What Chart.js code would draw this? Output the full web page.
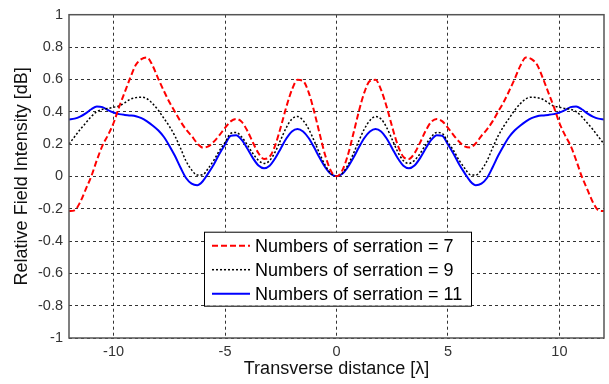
<!DOCTYPE html>
<html><head><meta charset="utf-8">
<script src="https://cdn.jsdelivr.net/npm/chart.js@4.4.1/dist/chart.umd.min.js"></script>
<style>html,body{margin:0;padding:0;background:#fff;}#wrap{width:609px;height:384px;}</style>
</head><body><div id="wrap"><canvas id="c" width="609" height="384"></canvas></div>
<script>
const xValues = [-12,-11.75,-11.5,-11.25,-11,-10.75,-10.5,-10.25,-10,-9.75,-9.5,-9.25,-9,-8.75,-8.5,-8.25,-8,-7.75,-7.5,-7.25,-7,-6.75,-6.5,-6.25,-6,-5.75,-5.5,-5.25,-5,-4.75,-4.5,-4.25,-4,-3.75,-3.5,-3.25,-3,-2.75,-2.5,-2.25,-2,-1.75,-1.5,-1.25,-1,-0.75,-0.5,-0.25,0,0.25,0.5,0.75,1,1.25,1.5,1.75,2,2.25,2.5,2.75,3,3.25,3.5,3.75,4,4.25,4.5,4.75,5,5.25,5.5,5.75,6,6.25,6.5,6.75,7,7.25,7.5,7.75,8,8.25,8.5,8.75,9,9.25,9.5,9.75,10,10.25,10.5,10.75,11,11.25,11.5,11.75,12];
const serration7 = [-0.215,-0.21,-0.16,-0.08,0.0,0.10,0.19,0.255,0.33,0.43,0.52,0.61,0.69,0.725,0.735,0.685,0.605,0.53,0.46,0.40,0.34,0.29,0.25,0.205,0.178,0.185,0.215,0.255,0.30,0.34,0.355,0.337,0.282,0.209,0.143,0.108,0.121,0.192,0.305,0.43,0.535,0.597,0.59,0.52,0.40,0.26,0.127,0.034,0,0.034,0.127,0.26,0.40,0.52,0.59,0.597,0.535,0.43,0.305,0.192,0.121,0.108,0.143,0.209,0.282,0.337,0.355,0.34,0.30,0.255,0.215,0.185,0.178,0.205,0.25,0.29,0.34,0.40,0.46,0.53,0.605,0.685,0.735,0.725,0.69,0.61,0.52,0.43,0.33,0.255,0.19,0.10,0.0,-0.08,-0.16,-0.21,-0.215];
const serration9 = [0.2,0.245,0.29,0.33,0.37,0.40,0.415,0.42,0.428,0.435,0.455,0.477,0.487,0.49,0.48,0.45,0.41,0.36,0.31,0.25,0.175,0.095,0.04,0.008,0.01,0.05,0.10,0.16,0.21,0.265,0.272,0.243,0.195,0.141,0.099,0.08,0.097,0.151,0.227,0.302,0.355,0.37,0.346,0.293,0.219,0.138,0.067,0.018,0,0.018,0.067,0.138,0.219,0.293,0.346,0.37,0.355,0.302,0.227,0.151,0.097,0.08,0.099,0.141,0.195,0.243,0.272,0.265,0.21,0.16,0.10,0.05,0.01,0.008,0.04,0.095,0.175,0.25,0.31,0.36,0.41,0.45,0.48,0.49,0.487,0.477,0.455,0.435,0.428,0.42,0.415,0.40,0.37,0.33,0.29,0.245,0.2];
const serration11 = [0.352,0.357,0.37,0.39,0.415,0.432,0.428,0.41,0.395,0.385,0.38,0.377,0.372,0.36,0.34,0.315,0.285,0.245,0.19,0.127,0.055,-0.01,-0.045,-0.055,-0.03,0.02,0.075,0.14,0.197,0.25,0.255,0.225,0.172,0.113,0.067,0.05,0.066,0.112,0.173,0.234,0.278,0.293,0.277,0.237,0.178,0.113,0.055,0.014,0,0.014,0.055,0.113,0.178,0.237,0.277,0.293,0.278,0.234,0.173,0.112,0.066,0.05,0.067,0.113,0.172,0.225,0.255,0.25,0.197,0.14,0.075,0.02,-0.03,-0.055,-0.045,-0.01,0.055,0.127,0.19,0.245,0.285,0.315,0.34,0.36,0.372,0.377,0.38,0.385,0.395,0.41,0.428,0.432,0.415,0.39,0.37,0.357,0.352];
const seriesLabels = ['Numbers of serration = 7','Numbers of serration = 9','Numbers of serration = 11'];
const xTickValues = [-10,-5,0,5,10];
const xTickLabels = ['-10','-5','0','5','10'];
const yTickValues = [-1,-0.8,-0.6,-0.4,-0.2,0,0.2,0.4,0.6,0.8,1];
const yTickLabels = ['-1','-0.8','-0.6','-0.4','-0.2','0','0.2','0.4','0.6','0.8','1'];
const xTitle = 'Transverse distance [\u03bb]';
const yTitle = 'Relative Field Intensity [dB]';

const FONT = '"Liberation Sans", Arial, sans-serif';
const toPts = arr => arr.map((v, i) => ({x: xValues[i], y: v}));

const framePlugin = {
  id: 'frameLegend',
  afterDatasetsDraw(chart) {
    const {ctx, chartArea: a} = chart;
    ctx.save();
    ctx.setLineDash([]);
    ctx.strokeStyle = '#555';
    ctx.lineWidth = 1.5;
    ctx.strokeRect(a.left, a.top, a.right - a.left, a.bottom - a.top);
    const lx = a.left + 135, ly = a.top + 217, lw = 267, lh = 74;
    ctx.fillStyle = '#fff';
    ctx.fillRect(lx, ly, lw, lh);
    ctx.strokeStyle = '#000';
    ctx.lineWidth = 1;
    ctx.strokeRect(lx + 0.5, ly + 0.5, lw, lh);
    chart.data.datasets.forEach((ds, i) => {
      const y = ly + 14 + i * 24;
      ctx.strokeStyle = ds.borderColor;
      ctx.lineWidth = ds.borderWidth;
      ctx.setLineDash(ds.borderDash || []);
      ctx.beginPath(); ctx.moveTo(lx + 8, y); ctx.lineTo(lx + 46, y); ctx.stroke();
      ctx.setLineDash([]);
      ctx.fillStyle = '#000';
      ctx.font = '18px ' + FONT;
      ctx.textBaseline = 'middle';
      ctx.fillText(ds.label, lx + 51, y + 1);
    });
    ctx.restore();
  }
};

new Chart(document.getElementById('c'), {
  type: 'line',
  data: {
    datasets: [
      {label: seriesLabels[0], data: toPts(serration7), borderColor: '#ff0000', borderWidth: 2, borderDash: [6, 3]},
      {label: seriesLabels[1], data: toPts(serration9), borderColor: '#000000', borderWidth: 1.5, borderDash: [2, 2]},
      {label: seriesLabels[2], data: toPts(serration11), borderColor: '#0000ff', borderWidth: 2}
    ]
  },
  options: {
    responsive: false,
    animation: false,
    devicePixelRatio: 1,
    layout: {padding: {top: 11, right: 5, left: 0, bottom: 0}},
    elements: {point: {radius: 0}, line: {cubicInterpolationMode: 'monotone', fill: false}},
    plugins: {legend: {display: false}, tooltip: {enabled: false}},
    scales: {
      x: {
        type: 'linear', min: -12, max: 12,
        afterBuildTicks: s => { s.ticks = xTickValues.map(v => ({value: v})); },
        afterFit: s => { s.height = 46; },
        ticks: {
          padding: 5, color: '#333', font: {family: FONT, size: 14.5},
          callback: v => xTickLabels[xTickValues.indexOf(v)]
        },
        grid: {color: '#333', lineWidth: 1, drawTicks: false},
        border: {display: false, dash: [3, 3]},
        title: {display: true, text: xTitle, color: '#111', font: {family: FONT, size: 18}, padding: {bottom: 4, top: 0}}
      },
      y: {
        type: 'linear', min: -1, max: 1,
        afterBuildTicks: s => { s.ticks = yTickValues.map(v => ({value: v})); },
        afterFit: s => { s.width = 69; },
        ticks: {
          padding: 6, color: '#333', font: {family: FONT, size: 14.5},
          callback: v => yTickLabels[yTickValues.indexOf(v)]
        },
        grid: {color: '#333', lineWidth: 1, drawTicks: false},
        border: {display: false, dash: [3, 3]},
        title: {display: true, text: yTitle, color: '#111', font: {family: FONT, size: 18}, padding: {top: 11, bottom: 0}}
      }
    }
  },
  plugins: [framePlugin]
});
</script></body></html>
